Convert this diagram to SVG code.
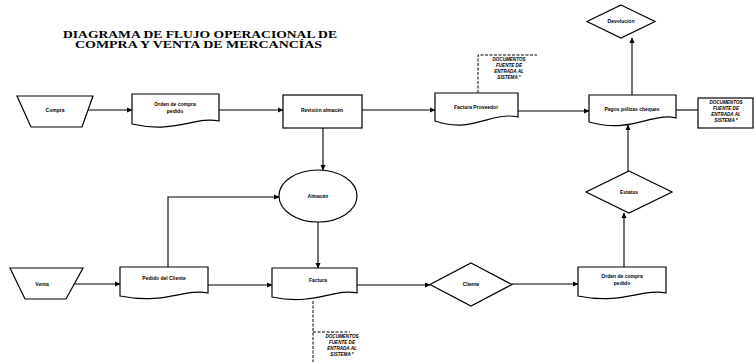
<svg xmlns="http://www.w3.org/2000/svg" width="754" height="362" viewBox="0 0 754 362">
<defs>
<marker id="ah" markerWidth="6" markerHeight="6" refX="5" refY="3" orient="auto" markerUnits="userSpaceOnUse">
<path d="M0,0.5 L5.5,3 L0,5.5 Z" fill="#000"/>
</marker>
<style>
.s{fill:#fff;stroke:#000;stroke-width:1.2}
.c{fill:none;stroke:#000;stroke-width:1.1;marker-end:url(#ah)}
.l{fill:none;stroke:#000;stroke-width:1.1}
.d{fill:none;stroke:#000;stroke-width:1;stroke-dasharray:3 1.5}
.t{font-family:"Liberation Sans",Arial,sans-serif;font-size:5px;font-weight:bold;text-anchor:middle;fill:#000}
.n{font-family:"Liberation Sans",Arial,sans-serif;font-size:4.6px;font-weight:bold;font-style:italic;text-anchor:middle;fill:#000}
.ti{font-family:"Liberation Serif","Times New Roman",serif;font-size:10px;font-weight:bold;fill:#000}
</style>
</defs>
<rect width="754" height="362" fill="#fff"/>
<g id="title">
<text class="ti" x="63" y="38" textLength="274" lengthAdjust="spacingAndGlyphs">DIAGRAMA DE FLUJO OPERACIONAL DE</text>
<text class="ti" x="75" y="48" textLength="247" lengthAdjust="spacingAndGlyphs">COMPRA Y VENTA DE MERCANCÍAS</text>
</g>
<g id="connectors">
<path class="c" d="M88,110 H132"/>
<path class="c" d="M219,110 H283"/>
<path class="c" d="M362,110 H435"/>
<path class="c" d="M518,111 H589"/>
<path class="c" d="M632,95 V38"/>
<path class="l" d="M676,110 H698"/>
<path class="c" d="M628,171 V125"/>
<path class="c" d="M323,128 V170"/>
<path class="c" d="M72,284 H120"/>
<path class="c" d="M168,267 V197 H279"/>
<path class="c" d="M318,222 V268"/>
<path class="c" d="M208,285 H272"/>
<path class="c" d="M357,285 H430"/>
<path class="c" d="M512,284 H578"/>
<path class="c" d="M624,267 V213"/>
</g>
<g id="compra">
<path class="s" d="M17,96 H93 L82,127 H31 Z"/>
<text class="t" x="55" y="112">Compra</text>
</g>
<g id="orden1">
<path class="s" d="M132,94 H219 V121 C195,116 175,134 132,124 Z"/>
<text class="t" x="175" y="106">Orden de compra</text>
<text class="t" x="175" y="113">pedido</text>
</g>
<g id="revision">
<rect class="s" x="283" y="95" width="79" height="33"/>
<text class="t" x="322" y="112">Revisión almacén</text>
</g>
<g id="factura-proveedor">
<path class="s" d="M435,93 H518 V117 C492,111 472,134 435,121 Z"/>
<text class="t" x="476" y="109">Factura Proveedor</text>
<g id="nota1">
<path class="d" d="M478,93 V55 H537"/>
<text class="n" x="509" y="61">DOCUMENTOS</text>
<text class="n" x="509" y="67">FUENTE DE</text>
<text class="n" x="509" y="73">ENTRADA AL</text>
<text class="n" x="509" y="79">SISTEMA *</text>
</g>
</g>
<g id="pagos">
<path class="s" d="M589,95 H676 V118 C652,112 632,134 589,122 Z"/>
<text class="t" x="632" y="111">Pagos pólizas cheques</text>
</g>
<g id="nota2">
<rect class="s" x="698" y="98" width="55" height="30"/>
<text class="n" x="726" y="104">DOCUMENTOS</text>
<text class="n" x="726" y="110">FUENTE DE</text>
<text class="n" x="726" y="116">ENTRADA AL</text>
<text class="n" x="726" y="122">SISTEMA *</text>
</g>
<g id="devolucion">
<path class="s" d="M621,5 L655,21.5 L621,38 L587,21.5 Z"/>
<text class="t" x="621" y="23">Devolución</text>
</g>
<g id="estatus">
<path class="s" d="M629,171 L672,192 L629,213 L586,192 Z"/>
<text class="t" x="629" y="194">Estatus</text>
</g>
<g id="almacen">
<ellipse class="s" cx="318" cy="196" rx="39" ry="26"/>
<text class="t" x="318" y="198">Almacén</text>
</g>
<g id="venta">
<path class="s" d="M10,268 H83 L66,299 H25 Z"/>
<text class="t" x="42" y="286">Venta</text>
</g>
<g id="pedido">
<path class="s" d="M120,267 H208 V293 C185,288 165,305 120,296 Z"/>
<text class="t" x="164" y="280">Pedido del Cliente</text>
</g>
<g id="factura">
<path class="s" d="M272,268 H357 V293 C335,288 315,306 272,297 Z"/>
<text class="t" x="318" y="282">Factura</text>
<g id="nota3">
<path class="d" d="M313,301 V362 M313,332 H350"/>
<text class="n" x="342" y="338">DOCUMENTOS</text>
<text class="n" x="342" y="344">FUENTE DE</text>
<text class="n" x="342" y="350">ENTRADA AL</text>
<text class="n" x="342" y="356">SISTEMA *</text>
</g>
</g>
<g id="cliente">
<path class="s" d="M471,263 L512,284.5 L471,306 L430,284.5 Z"/>
<text class="t" x="471" y="286">Cliente</text>
</g>
<g id="orden2">
<path class="s" d="M578,267 H666 V293 C643,288 622,305 578,296 Z"/>
<text class="t" x="622" y="278">Orden de compra</text>
<text class="t" x="622" y="285">pedido</text>
</g>
</svg>
